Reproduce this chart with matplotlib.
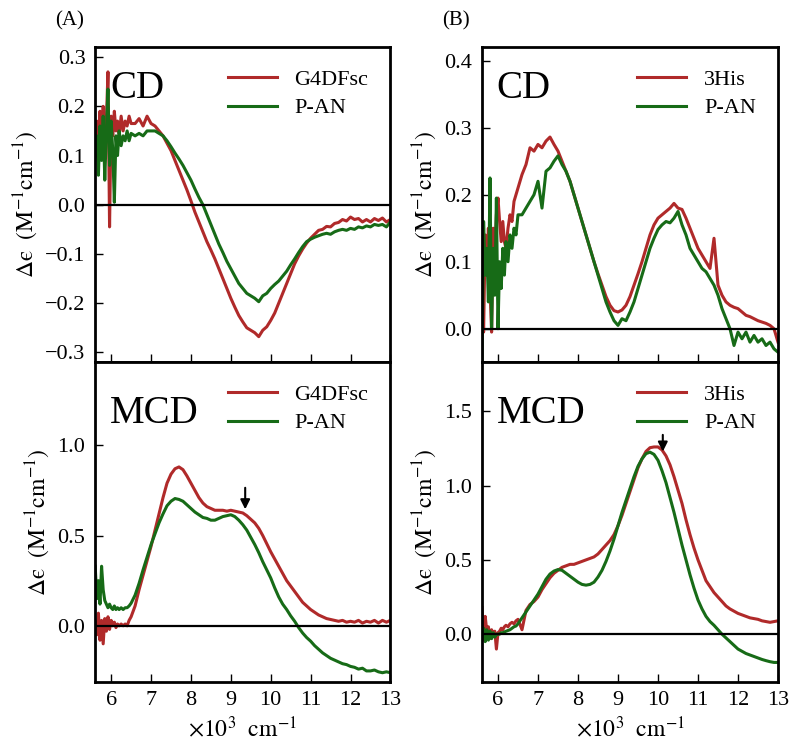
#!/usr/bin/python3

import matplotlib
matplotlib.use('Agg')
import matplotlib.pyplot as plt
import numpy as np

# wavenumber grid (x10^3 cm^-1): dense head for the noisy low energy part
wn_head = [5.60, 5.64, 5.68, 5.72, 5.76, 5.80, 5.84, 5.88, 5.92, 5.96, 6.00,
	6.04, 6.08, 6.12, 6.16, 6.20, 6.25, 6.30, 6.35, 6.40, 6.45, 6.50]
wn_body = [6.6, 6.7, 6.8, 6.9, 7.0, 7.1, 7.2, 7.3, 7.4, 7.5, 7.6, 7.7, 7.8,
	7.9, 8.0, 8.1, 8.2, 8.3, 8.4, 8.5, 8.6, 8.7, 8.8, 8.9, 9.0, 9.1, 9.2, 9.3,
	9.4, 9.5, 9.6, 9.7, 9.8, 9.9, 10.0, 10.1, 10.2, 10.3, 10.4, 10.5, 10.6,
	10.7, 10.8, 10.9, 11.0, 11.1, 11.2, 11.3, 11.4, 11.5, 11.6, 11.7, 11.8,
	11.9, 12.0, 12.1, 12.2, 12.3, 12.4, 12.5, 12.6, 12.7, 12.8, 12.9, 13.0]

# (A) CD
a_cd_g4dfsc = [0.13, 0.17, 0.10, 0.19, 0.12, 0.20, 0.11, 0.17, 0.27, -0.045, 0.18,
	0.14, 0.19, 0.15, 0.17, 0.14, 0.18, 0.15, 0.17, 0.16, 0.18, 0.165,
	0.165, 0.175, 0.16, 0.18, 0.165, 0.16, 0.15, 0.14, 0.125, 0.11, 0.09, 0.07,
	0.05, 0.03, 0.008, -0.015, -0.035, -0.055, -0.075, -0.092, -0.11, -0.13,
	-0.15, -0.17, -0.19, -0.208, -0.225, -0.238, -0.25, -0.255, -0.26, -0.268,
	-0.255, -0.248, -0.235, -0.22, -0.2, -0.18, -0.16, -0.14, -0.12, -0.104,
	-0.09, -0.078, -0.068, -0.06, -0.052, -0.05, -0.044, -0.045, -0.038, -0.036,
	-0.03, -0.033, -0.025, -0.03, -0.028, -0.035, -0.03, -0.035, -0.028, -0.032,
	-0.027, -0.035, -0.03]
a_cd_pan = [0.10, 0.14, 0.06, 0.16, 0.09, 0.18, 0.05, 0.15, 0.235, 0.08, 0.17,
	0.11, 0.005, 0.14, 0.10, 0.15, 0.12, 0.14, 0.13, 0.15, 0.13, 0.145,
	0.14, 0.145, 0.14, 0.15, 0.15, 0.15, 0.145, 0.14, 0.13, 0.118, 0.105, 0.093,
	0.08, 0.065, 0.05, 0.032, 0.015, 0.0, -0.02, -0.04, -0.06, -0.08, -0.097,
	-0.115, -0.13, -0.145, -0.16, -0.17, -0.18, -0.185, -0.19, -0.197, -0.185,
	-0.18, -0.17, -0.162, -0.155, -0.145, -0.135, -0.122, -0.11, -0.097, -0.085,
	-0.075, -0.07, -0.066, -0.063, -0.06, -0.058, -0.06, -0.055, -0.052, -0.05,
	-0.052, -0.048, -0.05, -0.045, -0.047, -0.043, -0.045, -0.04, -0.042, -0.04,
	-0.045, -0.035]

# (A) MCD
a_mcd_g4dfsc = [0.02, -0.05, 0.07, -0.08, 0.03, -0.1, 0.04, -0.03, 0.05, -0.02, 0.03,
	0.0, 0.02, -0.01, 0.01, 0.0, 0.01, 0.0, 0.01, 0.0, 0.03, 0.05,
	0.11, 0.2, 0.28, 0.36, 0.44, 0.53, 0.62, 0.71, 0.79, 0.84, 0.87, 0.88, 0.865,
	0.83, 0.79, 0.75, 0.71, 0.68, 0.66, 0.65, 0.64, 0.64, 0.64, 0.635, 0.64,
	0.635, 0.63, 0.625, 0.61, 0.59, 0.57, 0.54, 0.5, 0.455, 0.41, 0.37, 0.33,
	0.29, 0.25, 0.22, 0.19, 0.16, 0.13, 0.11, 0.09, 0.075, 0.06, 0.05, 0.04,
	0.035, 0.03, 0.025, 0.03, 0.02, 0.025, 0.02, 0.03, 0.015, 0.025, 0.02, 0.03,
	0.015, 0.03, 0.02, 0.03]
a_mcd_pan = [0.33, 0.15, 0.25, 0.12, 0.33, 0.2, 0.14, 0.12, 0.1, 0.12, 0.1,
	0.09, 0.11, 0.09, 0.1, 0.09, 0.1, 0.09, 0.1, 0.1, 0.11, 0.125,
	0.17, 0.235, 0.31, 0.38, 0.45, 0.51, 0.57, 0.62, 0.665, 0.69, 0.705, 0.7,
	0.69, 0.67, 0.65, 0.63, 0.615, 0.6, 0.595, 0.585, 0.585, 0.595, 0.605, 0.61,
	0.615, 0.605, 0.585, 0.56, 0.53, 0.49, 0.45, 0.405, 0.355, 0.31, 0.265, 0.21,
	0.16, 0.12, 0.09, 0.055, 0.025, -0.01, -0.04, -0.065, -0.085, -0.11, -0.13,
	-0.15, -0.165, -0.18, -0.19, -0.2, -0.21, -0.215, -0.225, -0.23, -0.24,
	-0.235, -0.25, -0.25, -0.245, -0.255, -0.26, -0.255, -0.26]

# (B) CD
b_cd_3his = [0.12, -0.005, 0.14, 0.08, 0.15, 0.06, -0.005, 0.15, 0.11, 0.17, 0.195,
	0.16, 0.13, 0.16, 0.13, 0.12, 0.15, 0.17, 0.16, 0.19, 0.2, 0.21,
	0.23, 0.245, 0.27, 0.265, 0.275, 0.27, 0.28, 0.286, 0.275, 0.265, 0.25,
	0.235, 0.22, 0.2, 0.18, 0.16, 0.14, 0.12, 0.1, 0.082, 0.065, 0.048, 0.035,
	0.027, 0.025, 0.028, 0.035, 0.048, 0.065, 0.082, 0.1, 0.12, 0.14, 0.155,
	0.165, 0.17, 0.175, 0.18, 0.187, 0.18, 0.178, 0.165, 0.15, 0.135, 0.12,
	0.11, 0.1, 0.09, 0.135, 0.065, 0.05, 0.04, 0.035, 0.032, 0.03, 0.025, 0.02,
	0.018, 0.015, 0.012, 0.01, 0.008, 0.005, 0.0, -0.02]
b_cd_pan = [-0.05, 0.16, 0.08, 0.12, 0.04, 0.225, 0.0, 0.12, 0.05, 0.195, 0.0,
	0.1, 0.06, 0.12, 0.08, 0.13, 0.1, 0.14, 0.12, 0.15, 0.14, 0.17,
	0.17, 0.18, 0.19, 0.2, 0.22, 0.18, 0.235, 0.24, 0.25, 0.258, 0.245, 0.235,
	0.22, 0.2, 0.18, 0.16, 0.14, 0.12, 0.1, 0.08, 0.06, 0.04, 0.025, 0.012,
	0.005, 0.015, 0.012, 0.025, 0.04, 0.06, 0.08, 0.1, 0.12, 0.135, 0.148,
	0.155, 0.16, 0.158, 0.165, 0.175, 0.155, 0.14, 0.12, 0.11, 0.1, 0.09, 0.085,
	0.075, 0.065, 0.05, 0.03, 0.015, 0.0, -0.025, -0.005, -0.015, -0.005, -0.02,
	-0.01, -0.02, -0.015, -0.025, -0.02, -0.03, -0.035]

# (B) MCD
b_mcd_3his = [0.18, -0.04, 0.12, 0.02, 0.05, -0.03, 0.03, 0.0, 0.02, -0.1, 0.01,
	0.02, 0.04, 0.03, 0.05, 0.06, 0.05, 0.07, 0.08, 0.07, 0.09, 0.1,
	0.03, 0.16, 0.2, 0.22, 0.25, 0.3, 0.34, 0.38, 0.41, 0.43, 0.45, 0.46, 0.47,
	0.47, 0.48, 0.49, 0.5, 0.51, 0.52, 0.54, 0.57, 0.6, 0.63, 0.67, 0.73, 0.8,
	0.88, 0.96, 1.04, 1.12, 1.18, 1.23, 1.255, 1.26, 1.26, 1.24, 1.2, 1.14,
	1.06, 0.97, 0.88, 0.77, 0.67, 0.58, 0.5, 0.43, 0.36, 0.32, 0.28, 0.25, 0.22,
	0.19, 0.17, 0.155, 0.14, 0.13, 0.12, 0.11, 0.105, 0.1, 0.09, 0.085, 0.08,
	0.085, 0.09]
b_mcd_pan = [-0.02, 0.04, -0.05, 0.03, -0.04, 0.02, -0.03, 0.01, -0.02, 0.0, 0.0,
	0.0, 0.01, 0.01, 0.015, 0.02, 0.025, 0.03, 0.04, 0.05, 0.055, 0.07,
	0.11, 0.15, 0.19, 0.23, 0.27, 0.32, 0.37, 0.405, 0.425, 0.435, 0.43, 0.41,
	0.39, 0.37, 0.35, 0.335, 0.33, 0.335, 0.35, 0.385, 0.43, 0.49, 0.56, 0.64,
	0.73, 0.82, 0.9, 0.98, 1.06, 1.13, 1.18, 1.215, 1.225, 1.21, 1.17, 1.1,
	1.02, 0.92, 0.82, 0.71, 0.6, 0.5, 0.4, 0.31, 0.23, 0.17, 0.12, 0.085, 0.06,
	0.03, 0.0, -0.025, -0.05, -0.075, -0.1, -0.115, -0.13, -0.14, -0.15, -0.16,
	-0.17, -0.178, -0.185, -0.19, -0.19]

# axis ticks
a_cd_ticks = [-0.3, -0.2, -0.1, 0.0, 0.1, 0.2, 0.3]
a_mcd_ticks = [0.0, 0.5, 1.0]
b_cd_ticks = [0.0, 0.1, 0.2, 0.3, 0.4]
b_mcd_ticks = [0.0, 0.5, 1.0, 1.5]
x_ticks = [6, 7, 8, 9, 10, 11, 12, 13]

RED = '#b02a2a'
GREEN = '#176b17'
# lunate epsilon, upright
YLABEL = '$\\Delta\\mathrm{\u03f5}\\ \\ (\\mathrm{M^{-1}cm^{-1}})$'


def panel(fig, rect, red, green, names, ylim, yticks, tag, bottom):
	''' draws one spectrum panel'''

	wn = np.array(wn_head + wn_body)
	ax = fig.add_axes(rect)
	ax.plot(wn, red, color=RED, lw=2.2, label=names[0])
	ax.plot(wn, green, color=GREEN, lw=2.2, label=names[1])
	ax.axhline(0, color='black', lw=1.6, zorder=3)

	ax.set_xlim(5.6, 13.0)
	ax.set_ylim(ylim)
	ax.set_xticks(x_ticks)
	ax.set_yticks(yticks)
	ax.set_yticklabels(['{:.1f}'.format(t).replace('-', '\u2212') for t in yticks])
	if not bottom:
		ax.set_xticklabels([])
	else:
		ax.set_xlabel(r'$\times10^{3}\ \ \mathrm{cm^{-1}}$', fontsize=17)

	# inward ticks on left and bottom only
	ax.tick_params(direction='in', length=6, width=1, labelsize=16,
		top=False, right=False, pad=7)
	for s in ax.spines.values():
		s.set_linewidth(2)

	ax.set_ylabel(YLABEL, fontsize=17)
	ax.text(0.05, 0.87 if tag == 'CD' else 0.84, tag, transform=ax.transAxes,
		fontsize=28, va='center', ha='left')
	ax.legend(loc='upper right', frameon=False, fontsize=16, handlelength=2.2,
		borderaxespad=0.6, labelspacing=0.35)

	return ax


def main():
	''' main function'''

	plt.rcParams['font.family'] = ['Liberation Serif', 'DejaVu Serif']
	plt.rcParams['mathtext.fontset'] = 'stix'

	fig = plt.figure(figsize=(8, 7.5), dpi=100)

	ax1 = panel(fig, [0.119, 0.517, 0.369, 0.42], a_cd_g4dfsc, a_cd_pan,
		['G4DFsc', 'P-AN'], (-0.32, 0.32), a_cd_ticks, 'CD', False)
	ax2 = panel(fig, [0.119, 0.091, 0.369, 0.426], a_mcd_g4dfsc, a_mcd_pan,
		['G4DFsc', 'P-AN'], (-0.31, 1.46), a_mcd_ticks, 'MCD', True)
	ax3 = panel(fig, [0.6025, 0.517, 0.37, 0.42], b_cd_3his, b_cd_pan,
		['3His', 'P-AN'], (-0.05, 0.42), b_cd_ticks, 'CD', False)
	ax4 = panel(fig, [0.6025, 0.091, 0.37, 0.426], b_mcd_3his, b_mcd_pan,
		['3His', 'P-AN'], (-0.32, 1.83), b_mcd_ticks, 'MCD', True)

	# arrows marking the band
	ax2.annotate('', xy=(9.36, 0.63), xytext=(9.36, 0.78),
		arrowprops=dict(arrowstyle='-|>', color='black', lw=1.5, mutation_scale=14))
	ax4.annotate('', xy=(10.12, 1.21), xytext=(10.12, 1.36),
		arrowprops=dict(arrowstyle='-|>', color='black', lw=1.5, mutation_scale=14))

	fig.text(0.069, 0.972, '(A)', fontsize=15, va='center')
	fig.text(0.553, 0.972, '(B)', fontsize=15, va='center')

	plt.savefig('out.png', dpi=100)


if __name__ == '__main__':
	main()
